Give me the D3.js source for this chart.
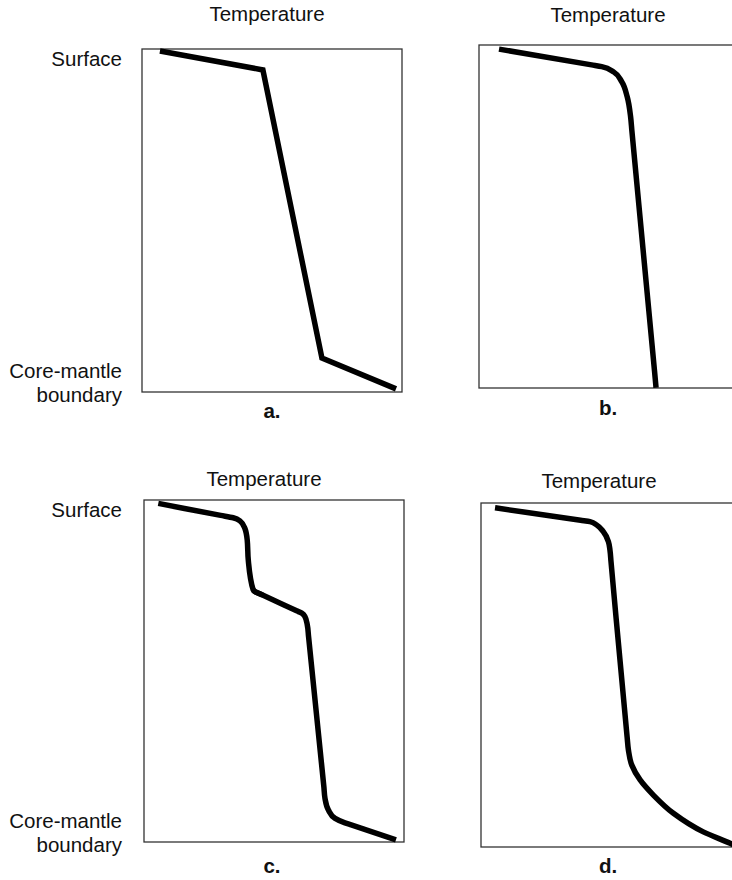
<!DOCTYPE html>
<html>
<head>
<meta charset="utf-8">
<script src="https://cdn.jsdelivr.net/npm/d3@7"></script>
<style>
  html, body { margin: 0; padding: 0; background: #fff; }
  svg { display: block; }
  text { font-family: "Liberation Sans", Arial, Helvetica, sans-serif; fill: #111; }
</style>
</head>
<body>
<svg id="chart" width="732" height="880"></svg>
<script>
// Normalised profiles: temperature (0-100 across the frame), depth (0 = surface, 100 = core-mantle boundary)
const tempA  = [6.9, 46.5, 69.2, 97.7];
const depthA = [0.6, 6.1, 90.1, 99.1];

const tempB  = [7.7, 43.3, 47.2, 51.7, 54.9, 57.0, 58.3, 58.8, 67.5, 68.1];
const depthB = [1.2, 5.8, 6.3, 7.8, 10.7, 15.1, 20.9, 25.0, 95.0, 99.9];

const tempC  = [5.5, 29.5, 34.3, 36.9, 38.8, 39.7, 40.1, 42.0, 42.7, 45.6, 58.7, 60.7, 61.9, 62.8, 63.3, 69.2, 69.6, 70.9, 73.5, 77.3, 79.7, 96.9];
const depthC = [1.0, 4.5, 5.2, 6.1, 8.3, 11.7, 17.5, 26.3, 26.8, 27.8, 32.4, 33.1, 34.1, 36.5, 40.0, 84.0, 87.2, 90.6, 93.1, 94.4, 95.0, 99.4];
const sharpC = [8];   // index of the angular knee in profile c

const tempD  = [5.4, 38.3, 41.9, 44.5, 47.0, 49.0, 49.6, 50.0, 56.2, 56.7, 58.0, 61.2, 66.3, 74.0, 85.5, 95.8, 97.0];
const depthD = [1.4, 5.0, 5.4, 6.4, 8.3, 11.2, 13.7, 17.0, 68.0, 71.8, 76.2, 80.5, 84.9, 90.2, 95.6, 98.9, 99.3];

const panelLetters = ["a.", "b.", "c.", "d."];
const xAxisTitle = "Temperature";
const topLabel = "Surface";
const bottomLabel = ["Core-mantle", "boundary"];

const profiles = [
  { t: tempA, d: depthA, smooth: false, sharp: [] },
  { t: tempB, d: depthB, smooth: true,  sharp: [] },
  { t: tempC, d: depthC, smooth: true,  sharp: sharpC },
  { t: tempD, d: depthD, smooth: true,  sharp: [] }
];

// layout of each frame
const frames = [
  { x: 142, y: 49,  w: 260, h: 343, left: true,  titleX: 267, titleY: 21,  letterX: 272, letterY: 418 },
  { x: 479, y: 45,  w: 262, h: 343, left: false, titleX: 608, titleY: 22,  letterX: 608, letterY: 415 },
  { x: 144, y: 500, w: 260, h: 342, left: true,  titleX: 264, titleY: 486, letterX: 272, letterY: 873 },
  { x: 481, y: 503, w: 262, h: 344, left: false, titleX: 599, titleY: 488, letterX: 608, letterY: 873 }
];

const svg = d3.select("#chart");
const fs = 20.5;

frames.forEach((f, i) => {
  const p = profiles[i];
  const x = d3.scaleLinear().domain([0, 100]).range([f.x, f.x + 260]);
  const y = d3.scaleLinear().domain([0, 100]).range([f.y, f.y + f.h]);
  const g = svg.append("g");

  g.append("rect")
    .attr("x", f.x).attr("y", f.y)
    .attr("width", f.w).attr("height", f.h)
    .attr("fill", "none").attr("stroke", "#333").attr("stroke-width", 1.3);

  const pts = p.t.map((v, k) => [v, p.d[k]]);
  const line = d3.line()
    .x(q => x(q[0])).y(q => y(q[1]))
    .curve(p.smooth ? d3.curveMonotoneY : d3.curveLinear);
  const straight = d3.line().x(q => x(q[0])).y(q => y(q[1]));

  // split the profile at angular knees so they stay sharp
  const cuts = [0, ...p.sharp, pts.length - 1];
  let d = "";
  for (let k = 0; k < cuts.length - 1; k++) {
    d += line(pts.slice(cuts[k], cuts[k + 1] + 1));
  }

  g.append("path")
    .attr("d", d)
    .attr("fill", "none").attr("stroke", "#000")
    .attr("stroke-width", 5.5).attr("stroke-linejoin", "miter")
    .attr("stroke-linecap", "butt");

  // short mitred piece to close each angular knee
  p.sharp.forEach(k => {
    g.append("path")
      .attr("d", straight(pts.slice(k - 1, k + 2)))
      .attr("fill", "none").attr("stroke", "#000")
      .attr("stroke-width", 5.5).attr("stroke-linejoin", "miter")
      .attr("stroke-linecap", "butt");
  });

  g.append("text")
    .attr("x", f.titleX).attr("y", f.titleY)
    .attr("text-anchor", "middle").attr("font-size", fs)
    .text(xAxisTitle);

  g.append("text")
    .attr("x", f.letterX).attr("y", f.letterY)
    .attr("text-anchor", "middle").attr("font-size", fs)
    .attr("font-weight", "bold")
    .text(panelLetters[i]);

  if (f.left) {
    g.append("text")
      .attr("x", 122).attr("y", f.y + 17)
      .attr("text-anchor", "end").attr("font-size", fs)
      .text(topLabel);
    g.append("text")
      .attr("x", 122).attr("y", f.y + f.h - 14)
      .attr("text-anchor", "end").attr("font-size", fs)
      .text(bottomLabel[0]);
    g.append("text")
      .attr("x", 122).attr("y", f.y + f.h + 10)
      .attr("text-anchor", "end").attr("font-size", fs)
      .text(bottomLabel[1]);
  }
});
</script>
</body>
</html>
